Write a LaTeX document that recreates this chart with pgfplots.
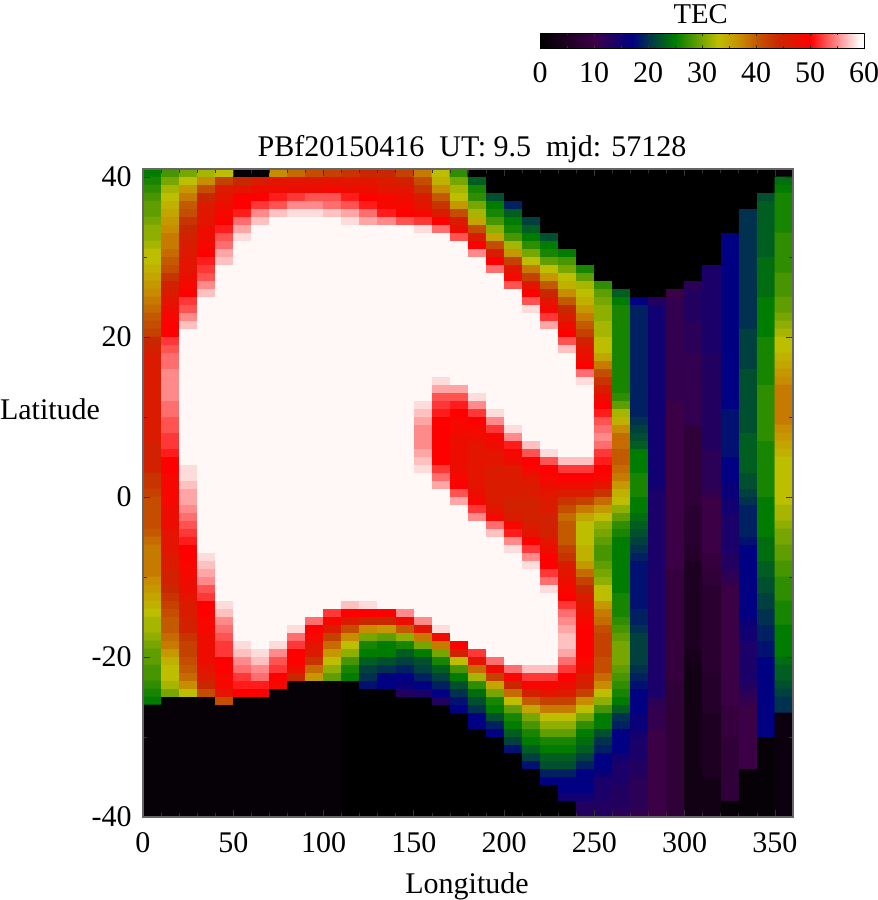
\documentclass[border=0pt]{standalone}
\usepackage{fontspec}
\setmainfont{Liberation Serif}
\usepackage{pgfplots}
\usepackage{pgfplotstable}
\pgfplotsset{compat=1.18}
\def\tf{\fontsize{22.5}{26}\selectfont}

% TEC grid: one line per longitude cell (36), 81 latitude cells from north to south
\pgfplotstableread[header=false]{
25 26 27 28 29 29 30 31 31 32  33 33 34 35 36 37 38 39 40 41  42 44 45 46 46 46 46 46 46 46  46 46 46 46 45 45 45 45 43 43  42 41 41 41 41 40 39 38 38 38  38 37 36 35 34 33 32 32 31 30  29 29 28 28 27 26 25 1 1 1  1 1 1 1 1 1 1 1 1 1  1
28 30 32 33 34 35 36 37 38 38  39 40 41 43 45 46 47 48 49 50  50 52 53 54 54 55 55 55 55 54  54 53 53 52 52 51 50 50 49 49  49 49 48 48 48 47 47 47 46 46  45 45 44 43 42 41 40 40 39 38  36 34 33 33 32 30 1 1 1 1  1 1 1 1 1 1 1 1 1 1  1
30 33 36 38 40 41 43 44 45 46  46 47 47 48 49 50 52 53 55 57  59 59 59 59 59 59 59 59 59 59  59 59 59 59 59 59 59 58 58 57  56 56 55 54 53 52 51 50 50 49  49 48 48 47 46 46 45 45 43 42  42 41 40 39 37 33 1 1 1 1  1 1 1 1 1 1 1 1 1 1  1
32 37 41 44 46 47 47 48 48 49  50 51 52 53 55 57 59 59 59 59  59 59 59 59 59 59 59 59 59 59  59 59 59 59 59 59 59 59 59 59  59 59 59 59 59 59 59 59 58 57  56 55 53 52 50 50 49 49 48 48  48 48 47 46 44 41 1 1 1 1  1 1 1 1 1 1 1 1 1 1  1
33 42 46 47 48 49 50 51 53 54  56 57 59 59 59 59 59 59 59 59  59 59 59 59 59 59 59 59 59 59  59 59 59 59 59 59 59 59 59 59  59 59 59 59 59 59 59 59 59 59  59 59 59 59 58 57 55 54 53 52  52 50 50 49 49 47 41 1 1 1  1 1 1 1 1 1 1 1 1 1  1
1 44 47 50 50 51 54 56 58 59  59 59 59 59 59 59 59 59 59 59  59 59 59 59 59 59 59 59 59 59  59 59 59 59 59 59 59 59 59 59  59 59 59 59 59 59 59 59 59 59  59 59 59 59 59 59 59 59 59 58  57 55 54 52 51 50 1 1 1 1  1 1 1 1 1 1 1 1 1 1  1
1 46 48 50 52 55 57 59 59 59  59 59 59 59 59 59 59 59 59 59  59 59 59 59 59 59 59 59 59 59  59 59 59 59 59 59 59 59 59 59  59 59 59 59 59 59 59 59 59 59  59 59 59 59 59 59 59 59 59 59  58 57 55 54 51 50 1 1 1 1  1 1 1 1 1 1 1 1 1 1  1
37 47 48 51 53 57 59 59 59 59  59 59 59 59 59 59 59 59 59 59  59 59 59 59 59 59 59 59 59 59  59 59 59 59 59 59 59 59 59 59  59 59 59 59 59 59 59 59 59 59  59 59 59 59 59 59 59 59 59 58  55 53 52 50 49 1 1 1 1 1  1 1 1 1 1 1 1 1 1 1  1
39 47 48 52 55 58 59 59 59 59  59 59 59 59 59 59 59 59 59 59  59 59 59 59 59 59 59 59 59 59  59 59 59 59 59 59 59 59 59 59  59 59 59 59 59 59 59 59 59 59  59 59 59 59 59 59 59 58 54 52  50 50 48 44 1 1 1 1 1 1  1 1 1 1 1 1 1 1 1 1  1
41 47 48 53 55 58 59 59 59 59  59 59 59 59 59 59 59 59 59 59  59 59 59 59 59 59 59 59 59 59  59 59 59 59 59 59 59 59 59 59  59 59 59 59 59 59 59 59 59 59  59 59 59 59 59 59 54 50 49 47  46 43 39 36 1 1 1 1 1 1  1 1 1 1 1 1 1 1 1 1  1
42 47 49 53 54 57 59 59 59 59  59 59 59 59 59 59 59 59 59 59  59 59 59 59 59 59 59 59 59 59  59 59 59 59 59 59 59 59 59 59  59 59 59 59 59 59 59 59 59 59  59 59 59 59 59 52 49 46 42 39  36 33 31 29 1 1 1 1 1 1  1 1 1 1 1 1 1 1 1 1  1
43 47 48 51 53 56 58 59 59 59  59 59 59 59 59 59 59 59 59 59  59 59 59 59 59 59 59 59 59 59  59 59 59 59 59 59 59 59 59 59  59 59 59 59 59 59 59 59 59 59  59 59 59 59 57 50 46 41 37 33  31 28 26 25 0 0 0 0 0 0  0 0 0 0 0 0 0 0 0 0  0
44 47 48 50 51 54 56 59 59 59  59 59 59 59 59 59 59 59 59 59  59 59 59 59 59 59 59 59 59 59  59 59 59 59 59 59 59 59 59 59  59 59 59 59 59 59 59 59 59 59  59 59 59 59 58 50 44 37 30 26  25 23 21 20 18 0 0 0 0 0  0 0 0 0 0 0 0 0 0 0  0
44 46 47 49 49 51 55 59 59 59  59 59 59 59 59 59 59 59 59 59  59 59 59 59 59 59 59 59 59 59  59 59 59 59 59 59 59 59 59 59  59 59 59 59 59 59 59 59 59 59  59 59 59 59 59 50 44 36 29 25  25 22 20 17 17 0 0 0 0 0  0 0 0 0 0 0 0 0 0 0  0
42 45 47 48 49 50 53 59 59 59  59 59 59 59 59 59 59 59 59 59  59 59 59 59 59 59 59 59 59 59  59 59 59 59 59 59 59 59 59 59  59 59 59 59 59 59 59 59 59 59  59 59 59 59 59 55 48 40 31 26  23 21 19 17 16 13 0 0 0 0  0 0 0 0 0 0 0 0 0 0  0
38 41 43 46 47 49 52 58 59 59  59 59 59 59 59 59 59 59 59 59  59 59 59 59 59 59 59 59 59 58  57 56 55 55 55 56 57 58 59 59  59 59 59 59 59 59 59 59 59 59  59 59 59 59 59 59 55 47 38 30  25 22 21 19 17 14 0 0 0 0  0 0 0 0 0 0 0 0 0 0  0
33 34 37 40 43 46 50 54 59 59  59 59 59 59 59 59 59 59 59 59  59 59 59 59 59 59 58 56 53 52  51 50 50 50 50 50 50 52 54 56  59 59 59 59 59 59 59 59 59 59  59 59 59 59 59 59 59 58 48 38  30 26 23 21 19 17 13 0 0 0  0 0 0 0 0 0 0 0 0 0  0
27 30 32 33 36 41 46 48 53 59  59 59 59 59 59 59 59 59 59 59  59 59 59 59 59 59 59 56 53 51  50 49 49 48 48 48 48 48 49 50  53 56 59 59 59 59 59 59 59 59  59 59 59 59 59 59 59 59 59 50  45 33 28 25 22 20 18 17 0 0  0 0 0 0 0 0 0 0 0 0  0
0 23 26 27 30 32 35 41 46 50  55 59 59 59 59 59 59 59 59 59  59 59 59 59 59 59 59 59 58 55  52 50 49 48 47 47 47 47 47 47  48 49 52 55 59 59 59 59 59 59  59 59 59 59 59 59 59 59 59 59  52 47 39 32 27 24 22 20 17 17  0 0 0 0 0 0 0 0 0 0  0
0 0 0 22 25 26 28 31 35 41  46 50 54 59 59 59 59 59 59 59  59 59 59 59 59 59 59 59 59 59  58 55 52 49 48 47 47 46 46 46  46 46 47 49 54 57 59 59 59 59  59 59 59 59 59 59 59 59 59 59  59 54 48 42 35 30 26 25 22 19  17 0 0 0 0 0 0 0 0 0  0
0 0 0 0 19 23 25 26 28 32  36 42 47 49 53 59 59 59 59 59  59 59 59 59 59 59 59 59 59 59  59 59 58 55 51 49 48 46 46 46  46 45 45 46 49 51 55 58 59 59  59 59 59 59 59 59 59 59 59 59  59 59 54 49 44 39 33 29 26 25  23 21 18 0 0 0 0 0 0 0  0
0 0 0 0 0 0 21 23 25 27  30 33 38 42 47 50 53 58 59 59  59 59 59 59 59 59 59 59 59 59  59 59 59 59 57 53 50 49 47 46  46 45 45 45 46 47 50 52 55 58  59 59 59 59 59 59 59 59 59 59  59 59 57 52 49 45 40 35 30 28  26 25 23 21 18 0 0 0 0 0  0
0 0 0 0 0 0 0 0 22 25  26 29 33 36 40 44 47 49 52 56  59 59 59 59 59 59 59 59 59 59  59 59 59 59 59 58 53 50 49 48  47 46 46 45 45 45 47 48 50 50  52 54 58 59 59 59 59 59 59 59  59 59 57 52 49 47 42 38 33 31  29 26 25 23 22 19 17 0 0 0  0
0 0 0 0 0 0 0 0 0 0  25 28 30 33 34 37 40 44 46 48  50 53 57 59 59 59 59 59 59 59  59 59 59 59 59 59 57 52 50 48  46 43 41 39 40 40 40 42 43 46  47 48 49 50 52 54 55 56 57 57  56 54 52 50 48 46 42 38 33 31  29 26 25 23 22 19 17 17 15 0  0
0 0 0 0 0 0 0 0 0 0  0 0 26 29 32 33 34 36 38 40  42 45 47 48 50 54 58 59 59 59  59 59 59 59 59 59 57 52 50 48  46 42 38 35 33 33 33 34 34 36  39 42 44 46 47 48 49 50 50 50  50 49 48 46 45 42 37 33 30 27  25 24 23 21 19 17 17 17 15 13  13
0 0 0 0 0 0 0 0 0 0  0 0 0 0 27 29 30 31 31 32  32 33 33 35 38 41 43 46 48 50  51 53 54 55 54 52 51 50 49 47  43 39 36 33 31 30 29 28 28 29  30 31 33 33 36 38 39 41 42 42  42 41 41 39 37 33 31 28 25 25  22 20 19 17 17 16 14 14 14 13  13
0 0 0 0 0 0 0 0 0 0  0 0 0 0 0 23 25 26 26 26  26 26 26 26 26 26 26 26 27 29  32 34 37 39 39 40 40 39 38 36  34 33 31 29 27 26 25 25 25 25  25 25 25 26 26 26 27 28 29 30  30 30 29 28 27 26 25 23 20 19  17 17 17 15 14 14 14 13 13 13  12
0 0 0 0 0 0 0 0 0 0  0 0 0 0 0 0 17 19 19 19  19 19 19 19 19 19 19 19 19 19  19 20 21 22 23 25 25 25 26 26  26 25 25 24 23 22 21 20 19 18  18 18 18 18 18 19 19 20 21 21  21 21 20 19 18 17 17 17 16 16  15 14 14 14 13 13 12 12 12 12  11
0 0 0 0 0 0 0 0 0 0  0 0 0 0 0 0 13 15 15 15  15 15 15 15 15 15 15 15 15 15  15 15 15 15 15 15 15 15 15 15  14 14 14 14 14 14 14 14 14 14  14 14 14 14 14 14 14 14 14 14  14 14 14 14 14 14 12 11 11 11  10 10 10 10 10 10 10 10 10 10  10
0 0 0 0 0 0 0 0 0 0  0 0 0 0 0 10 11 11 11 11  11 11 11 11 11 11 11 11 11 10  10 10 10 10 10 10 10 10 10 10  10 10 10 10 10 10 10 10 10 10  9 9 9 9 9 9 9 9 9 9  9 9 9 9 8 8 8 8 8 8  8 8 8 8 8 8 8 8 8 8  8
0 0 0 0 0 0 0 0 0 0  0 0 0 0 12 13 13 13 13 12  12 12 12 11 11 11 11 11 11 11  11 11 8 8 8 8 8 8 8 8  8 8 7 7 7 7 7 6 6 5  5 5 5 5 5 5 5 5 5 5  4 4 3 3 3 3 3 3 3 3  3 3 3 3 3 3 3 3 3 3  3
0 0 0 0 0 0 0 0 0 0  0 0 14 14 14 14 14 14 14 14  14 14 14 13 13 13 13 13 13 13  13 13 13 13 13 12 12 12 12 12  11 10 10 10 10 10 10 10 9 9  8 8 7 7 7 7 7 7 7 7  7 7 7 6 6 6 6 6 5 5  5 5 5 5 5 5 3 3 3 3  3
0 0 0 0 0 0 0 0 17 17  17 17 17 17 17 17 17 17 17 17  17 17 17 17 17 17 17 17 17 17  18 18 18 18 18 18 17 17 17 16  16 15 15 14 14 14 14 14 13 13  12 11 10 10 10 10 10 10 10 10  10 10 10 10 10 10 10 9 9 9  9 8 8 8 8 8 8 8 8 1  1
0 0 0 0 0 20 20 20 20 20  20 20 20 20 20 20 20 20 20 20  21 21 21 21 21 22 22 22 22 22  22 22 22 23 23 23 23 23 22 22  21 20 19 19 19 19 18 17 17 17  17 17 17 17 17 17 16 15 15 14  14 14 14 14 13 12 11 10 10 10  10 10 10 10 10 1 1 1 1 1  1
0 0 0 22 23 23 23 23 23 23  23 24 24 24 24 24 25 25 25 25  25 26 26 26 26 26 26 27 27 27  27 27 27 27 26 26 26 26 26 26  26 25 25 25 25 25 24 24 24 23  23 22 22 21 21 20 20 19 19 18  18 17 17 17 17 17 17 17 17 17  17 1 1 1 1 1 1 1 1 1  1
2 24 25 26 26 26 26 26 27 27  27 27 27 28 28 28 29 29 30 31  32 33 33 34 35 36 37 38 38 38  38 38 37 36 35 34 33 33 33 33  33 33 32 32 31 30 30 29 29 28  28 27 27 27 26 26 26 25 25 25  25 24 23 23 22 21 20 20 2 2  2 2 2 2 2 2 2 2 2 2  2
}\tecdata

% long form for the matrix plot
\gdef\teclong{c r v\noexpand\\}
\pgfplotsforeachungrouped \ci in {0,...,35}{%
  \pgfplotsforeachungrouped \ri in {0,...,80}{%
    \pgfplotstablegetelem{\ci}{[index]\ri}\of\tecdata
    \xdef\teclong{\teclong \ci\space\ri\space\pgfplotsretval\noexpand\\}%
  }%
}
\def\readlong#1{\pgfplotstableread[row sep=crcr]{#1}\teclongtable}
\expandafter\readlong\expandafter{\teclong}

\begin{document}
\begin{tikzpicture}
\path[use as bounding box] (-107.25pt,-62.25pt) rectangle (551.25pt,612.75pt);
\begin{axis}[
    at={(0pt,0pt)},
    anchor=south west,
    scale only axis,
    width=487.5pt,
    height=486pt,
    xmin=0, xmax=360,
    ymin=-40, ymax=41,
    axis on top,
    clip=false,
    xtick={0,50,...,350},
    ytick={-40,-20,...,40},
    minor x tick num=4,
    minor y tick num=1,
    tick align=inside,
    major tick length=5pt,
    minor tick length=3pt,
    tick style={black!80, line width=0.5pt},
    axis line style={black!60, line width=0.8pt},
    /pgf/number format/assume math mode=true,
    tick label style={font=\tf},
    xticklabel style={yshift=-8pt},
    yticklabel style={xshift=-5pt},
    label style={font=\tf},
    title style={font=\tf, yshift=-5pt, xshift=3pt},
    title={PBf20150416\ \ UT: 9.5\ \ mjd: 57128},
    xlabel={Longitude},
    ylabel={Latitude},
    xlabel style={at={(0.4985,-0.1075)}, anchor=center},
    ylabel style={at={(-0.143,0.63)}, anchor=center, rotate=-90},
    colormap={tec}{
        rgb255(0pt)=(0,0,0);
        rgb255(10pt)=(60,0,70);
        rgb255(17pt)=(0,0,130);
        rgb255(20pt)=(0,50,80);
        rgb255(25pt)=(0,125,0);
        rgb255(33pt)=(190,190,0);
        rgb255(37pt)=(200,140,0);
        rgb255(40pt)=(195,90,0);
        rgb255(44pt)=(200,40,0);
        rgb255(50pt)=(255,0,0);
        rgb255(59pt)=(255,248,247);
        rgb255(60pt)=(255,255,255)
    },
    point meta min=0,
    point meta max=60,
    colorbar horizontal,
    colorbar style={
        at={(0.6108,1.1867)},
        anchor=south west,
        scale only axis,
        width=243pt,
        height=11.25pt,
        xtick={0,10,...,60},
        minor x tick num=1,
        tick align=inside,
        major tick length=2.5pt,
        minor tick length=1.5pt,
        title={TEC},
        title style={font=\fontsize{21.5}{24}\selectfont, inner sep=0pt, yshift=1pt, xshift=-1pt},
        xticklabel style={font=\tf, yshift=-7pt},
        /pgf/number format/assume math mode=true,
    },
]
\addplot[
    matrix plot*,
    mesh/cols=36,
    mesh/rows=81,
    mesh/ordering=y varies,
    point meta=explicit,
] table[
    x expr={\thisrow{c}*10+5},
    y expr={40.5-\thisrow{r}},
    meta=v,
] {\teclongtable};
\end{axis}
\end{tikzpicture}
\end{document}
